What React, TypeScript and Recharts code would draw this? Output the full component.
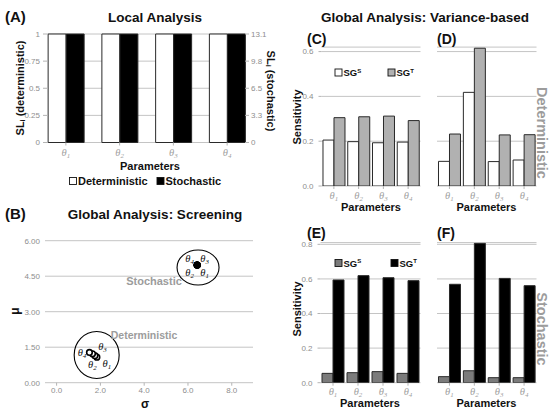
import React from 'react';
import {
  BarChart,
  Bar,
  XAxis,
  YAxis,
  CartesianGrid,
  ScatterChart,
  Scatter,
  ReferenceDot,
} from 'recharts';

const W = 550;
const H = 413;

// ---------------- data ----------------
const parameters = ['1', '2', '3', '4'];

// (A) local analysis
const localSeries = ['Deterministic', 'Stochastic'];
const localDeterministic = [1, 1, 1, 1];
const localStochastic = [13.1, 13.1, 13.1, 13.1];
const localLeftTicks = [0, 0.25, 0.5, 0.75, 1];
const localLeftTickLabels = ['0', '0.25', '0.5', '0.75', '1'];
const localRightTicks = [0, 3.275, 6.55, 9.825, 13.1];
const localRightTickLabels = ['0', '3.3', '6.5', '9.8', '13.1'];

// (B) screening
const screenDetSigma = [1.84, 1.75, 1.64, 1.5];
const screenDetMu = [1.08, 1.14, 1.22, 1.28];
const screenStoSigma = [6.42, 6.42, 6.42, 6.42];
const screenStoMu = [4.97, 4.97, 4.97, 4.97];
const screenClusterSigma = [6.46, 1.83]; // stochastic, deterministic
const screenClusterMu = [4.87, 1.17];
const screenGroups = ['Stochastic', 'Deterministic'];
const screenXTicks = [0, 2, 4, 6, 8];
const screenXTickLabels = ['0.0', '2.0', '4.0', '6.0', '8.0'];
const screenYTicks = [0, 1.5, 3, 4.5, 6];
const screenYTickLabels = ['0.00', '1.50', '3.00', '4.50', '6.00'];

// (C)-(F) variance based
const varSeries = ['S', 'T'];
const detFirstC = [0.205, 0.198, 0.193, 0.196];
const detTotalC = [0.305, 0.309, 0.312, 0.292];
const detFirstD = [0.11, 0.418, 0.109, 0.116];
const detTotalD = [0.232, 0.615, 0.228, 0.229];
const stoFirstE = [0.054, 0.058, 0.064, 0.054];
const stoTotalE = [0.594, 0.619, 0.607, 0.59];
const stoFirstF = [0.035, 0.069, 0.029, 0.029];
const stoTotalF = [0.569, 0.806, 0.603, 0.561];
const detTicks = [0, 0.2, 0.4, 0.6];
const detTickLabels = ['0.0', '0.2', '0.4', '0.6'];
const stoTicks = [0, 0.2, 0.4, 0.6, 0.8];
const stoTickLabels = ['0.0', '0.2', '0.4', '0.6', '0.8'];

// ---------------- styles ----------------
const GRID = '#c4c4c4';
const TICK_TEXT = '#8e8e8e';
const TICK_LINE = '#b4b4b4';
const NOTE = '#9c9c9c';
const BAR_STROKE = '#2a2a2a';
const LIGHT_GRAY = '#b1b1b1';
const DARK_GRAY = '#7b7b7b';
const SANS = "'Liberation Sans', Arial, Helvetica, sans-serif";
const SERIF = "'Liberation Serif', 'DejaVu Serif', serif";

const fmt = (ticks: number[], labels: string[]) => (v: number) => {
  const i = ticks.findIndex((t) => Math.abs(t - v) < 1e-9);
  return i >= 0 ? labels[i] : String(v);
};

function Theta({ x, y, sub, fill, size = 11 }: any) {
  return (
    <text x={x} y={y} textAnchor="middle" fill={fill} fontFamily={SERIF} fontStyle="italic" fontSize={size}>
      θ
      <tspan fontSize={size * 0.66} dy={2.2}>
        {sub}
      </tspan>
    </text>
  );
}

function ThetaTick(props: any) {
  const { x, y, payload, baseline = 8 } = props;
  return <Theta x={x} y={y + baseline} sub={payload.value} fill="#a2a2a2" size={10.5} />;
}

const abs: React.CSSProperties = { position: 'absolute', left: 0, top: 0 };

// ---------------- panel A ----------------
function LocalPanel() {
  const data = parameters.map((p, i) => ({ p, det: localDeterministic[i], sto: localStochastic[i] }));
  const plot = { left: 48, right: 245, top: 34, bottom: 142.5 };
  const yw = 40;
  return (
    <div style={abs}>
      <BarChart
        width={W}
        height={H}
        data={data}
        margin={{ top: plot.top, left: plot.left - yw, right: W - plot.right - yw, bottom: H - plot.bottom - 30 }}
        barCategoryGap="17%"
        barGap={0}
      >
        <CartesianGrid vertical={false} stroke={GRID} yAxisId="left" />
        <XAxis
          dataKey="p"
          height={30}
          interval={0}
          axisLine={false}
          tickSize={3}
          tickMargin={2}
          tickLine={{ stroke: TICK_LINE }}
          padding={{ left: -9, right: -9 }}
          tick={<ThetaTick baseline={8} />}
        />
        <YAxis
          yAxisId="left"
          width={yw}
          domain={[0, 1]}
          ticks={localLeftTicks}
          tickFormatter={fmt(localLeftTicks, localLeftTickLabels)}
          axisLine={false}
          tickSize={5}
          tickMargin={3}
          tickLine={{ stroke: TICK_LINE }}
          tick={{ fontSize: 8, fill: TICK_TEXT }}
        />
        <YAxis
          yAxisId="right"
          orientation="right"
          width={yw}
          domain={[0, 13.1]}
          ticks={localRightTicks}
          tickFormatter={fmt(localRightTicks, localRightTickLabels)}
          axisLine={false}
          tickSize={4}
          tickMargin={2}
          tickLine={{ stroke: TICK_LINE }}
          tick={{ fontSize: 8, fill: TICK_TEXT }}
        />
        <Bar yAxisId="left" dataKey="det" fill="#ffffff" stroke={BAR_STROKE} isAnimationActive={false} />
        <Bar yAxisId="right" dataKey="sto" fill="#000000" stroke={BAR_STROKE} isAnimationActive={false} />
      </BarChart>
    </div>
  );
}

// ---------------- panel B ----------------
const detLabelOffsets: Record<string, [number, number]> = {
  '1': [10, 10],
  '2': [-2.5, 12.5],
  '3': [10, -4],
  '4': [-7.5, 3.5],
};
const stoLabelOffsets: Record<string, [number, number]> = {
  '1': [7.5, 10.5],
  '2': [-7.5, 10.5],
  '3': [7.5, -3.5],
  '4': [-7.5, -3.5],
};

function DetPoint(props: any) {
  const { cx, cy, payload } = props;
  const o = detLabelOffsets[payload.p];
  return (
    <g>
      <circle cx={cx} cy={cy} r={2.8} fill="#fff" stroke="#000" strokeWidth={1.6} />
      <Theta x={cx + o[0]} y={cy + o[1]} sub={payload.p} fill="#111" size={10.5} />
    </g>
  );
}

function StoPoint(props: any) {
  const { cx, cy, payload } = props;
  const o = stoLabelOffsets[payload.p];
  return (
    <g>
      <circle cx={cx} cy={cy} r={3.3} fill="#000" stroke="#000" />
      <Theta x={cx + o[0]} y={cy + o[1]} sub={payload.p} fill="#111" size={10.5} />
    </g>
  );
}

const clusterRadii: [number, number][] = [
  [21, 17.5],
  [22.5, 23.5],
];

function ScreenPanel() {
  const det = parameters.map((p, i) => ({ p, sigma: screenDetSigma[i], mu: screenDetMu[i] }));
  const sto = parameters.map((p, i) => ({ p, sigma: screenStoSigma[i], mu: screenStoMu[i] }));
  const plot = { left: 45, right: 253, top: 240.7, bottom: 382.7 };
  const yw = 40;
  return (
    <div style={abs}>
      <ScatterChart
        width={W}
        height={H}
        margin={{ top: plot.top, left: plot.left - yw, right: W - plot.right, bottom: H - plot.bottom - 20 }}
      >
        <CartesianGrid vertical={false} stroke={GRID} />
        <XAxis
          type="number"
          dataKey="sigma"
          domain={[-0.53, 8.97]}
          allowDataOverflow
          ticks={screenXTicks}
          tickFormatter={fmt(screenXTicks, screenXTickLabels)}
          height={20}
          axisLine={false}
          tickSize={3}
          tickMargin={2}
          tickLine={{ stroke: TICK_LINE }}
          tick={{ fontSize: 8, fill: TICK_TEXT }}
        />
        <YAxis
          type="number"
          dataKey="mu"
          domain={[0, 6]}
          allowDataOverflow
          ticks={screenYTicks}
          tickFormatter={fmt(screenYTicks, screenYTickLabels)}
          width={yw}
          axisLine={false}
          tickLine={false}
          tickSize={0}
          tickMargin={5}
          tick={{ fontSize: 8, fill: TICK_TEXT }}
        />
        {screenGroups.map((g, i) => (
          <ReferenceDot
            key={g}
            x={screenClusterSigma[i]}
            y={screenClusterMu[i]}
            r={clusterRadii[i][0]}
            shape={(p: any) => (
              <ellipse cx={p.cx} cy={p.cy} rx={clusterRadii[i][0]} ry={clusterRadii[i][1]} fill="none" stroke="#000" strokeWidth={1.1} />
            )}
          />
        ))}
        <Scatter data={det} shape={DetPoint} isAnimationActive={false} />
        <Scatter data={sto} shape={StoPoint} isAnimationActive={false} />
      </ScatterChart>
    </div>
  );
}

// ---------------- panels C-F ----------------
function VarPanel({ first, total, plot, domain, ticks, tickLabels, showY, firstFill, totalFill }: any) {
  const data = parameters.map((p, i) => ({ p, first: first[i], total: total[i] }));
  const yw = showY ? 40 : 0;
  return (
    <div style={abs}>
      <BarChart
        width={W}
        height={H}
        data={data}
        margin={{ top: plot.top, left: plot.left - yw, right: W - plot.right, bottom: H - plot.bottom - 30 }}
        barCategoryGap="6%"
        barGap={0}
      >
        <CartesianGrid vertical={false} stroke={GRID} />
        <XAxis
          dataKey="p"
          height={30}
          interval={0}
          axisLine={false}
          tickSize={3}
          tickMargin={2}
          tickLine={{ stroke: TICK_LINE }}
          tick={<ThetaTick baseline={7.5} />}
        />
        <YAxis
          hide={!showY}
          width={yw}
          domain={domain}
          allowDataOverflow
          ticks={ticks}
          tickFormatter={fmt(ticks, tickLabels)}
          axisLine={false}
          tickSize={3}
          tickMargin={5}
          tickLine={{ stroke: TICK_LINE }}
          tick={{ fontSize: 8, fill: TICK_TEXT }}
        />
        <Bar dataKey="first" fill={firstFill} stroke={BAR_STROKE} isAnimationActive={false} />
        <Bar dataKey="total" fill={totalFill} stroke={BAR_STROKE} isAnimationActive={false} />
      </BarChart>
    </div>
  );
}

// ---------------- overlay text ----------------
function Overlay() {
  const bold = { fontFamily: SANS, fontWeight: 700 } as const;
  const legendA = [
    { name: localSeries[0], fill: '#fff', sx: 69.5, tx: 78 },
    { name: localSeries[1], fill: '#000', sx: 157, tx: 165.5 },
  ];
  const legendC = [
    { sup: varSeries[0], fill: '#fff', sx: 335, tx: 343.5 },
    { sup: varSeries[1], fill: LIGHT_GRAY, sx: 388, tx: 396.5 },
  ];
  const legendE = [
    { sup: varSeries[0], fill: DARK_GRAY, sx: 335, tx: 343.5 },
    { sup: varSeries[1], fill: '#000', sx: 391, tx: 399.5 },
  ];
  const paramTitle = (x: number, y: number) => (
    <text x={x} y={y} textAnchor="middle" fontSize={11} {...bold} fill="#111">
      Parameters
    </text>
  );
  const sens = (x: number, y: number) => (
    <text x={x} y={y} textAnchor="middle" dominantBaseline="central" fontSize={11} {...bold} fill="#111" transform={`rotate(-90 ${x} ${y})`}>
      Sensitivity
    </text>
  );
  const varLegend = (items: any[], y: number) =>
    items.map((it) => (
      <g key={it.sup + y}>
        <rect x={it.sx} y={y - 7} width={7} height={7} fill={it.fill} stroke="#111" strokeWidth={0.9} />
        <text x={it.tx} y={y} fontSize={9.5} {...bold} fill="#111">
          SG
          <tspan fontSize={6} dy={-3.5}>
            {it.sup}
          </tspan>
        </text>
      </g>
    ));
  return (
    <svg width={W} height={H} style={{ ...abs, pointerEvents: 'none' }}>
      {/* Panel A */}
      <text x={5} y={21.5} fontSize={15} {...bold} fill="#111">(A)</text>
      <text x={155} y={21.5} textAnchor="middle" fontSize={13.5} {...bold} fill="#111">Local Analysis</text>
      <text x={20} y={88} textAnchor="middle" dominantBaseline="central" fontSize={11} {...bold} fill="#111" transform="rotate(-90 20 88)">
        SL<tspan fontSize={7} dy={2}>i</tspan><tspan dy={-2}> (deterministic)</tspan>
      </text>
      <text x={271} y={91} textAnchor="middle" dominantBaseline="central" fontSize={11} {...bold} fill="#111" transform="rotate(90 271 91)">
        SL<tspan fontSize={7} dy={2}>i</tspan><tspan dy={-2}> (stochastic)</tspan>
      </text>
      {paramTitle(150, 170)}
      {legendA.map((it) => (
        <g key={it.name}>
          <rect x={it.sx} y={177.5} width={7} height={7} fill={it.fill} stroke="#111" strokeWidth={0.9} />
          <text x={it.tx} y={185} fontSize={11} {...bold} fill="#111">{it.name}</text>
        </g>
      ))}

      {/* Panel B */}
      <text x={5} y={219} fontSize={15} {...bold} fill="#111">(B)</text>
      <text x={155} y={219} textAnchor="middle" fontSize={13.5} {...bold} fill="#111">Global Analysis: Screening</text>
      <text x={15} y={311} textAnchor="middle" dominantBaseline="central" fontSize={12} {...bold} fill="#111" transform="rotate(-90 15 311)">μ</text>
      <text x={145} y={407.5} textAnchor="middle" fontSize={12} {...bold} fill="#111">σ</text>
      <text x={154} y={285} textAnchor="middle" fontSize={11} {...bold} fill={NOTE}>{screenGroups[0]}</text>
      <text x={144} y={338.5} textAnchor="middle" fontSize={10.5} {...bold} fill={NOTE}>{screenGroups[1]}</text>

      {/* Panels C-F */}
      <text x={425} y={21.5} textAnchor="middle" fontSize={13.5} {...bold} fill="#111">Global Analysis: Variance-based</text>
      <text x={307} y={43.5} fontSize={14} {...bold} fill="#111">(C)</text>
      <text x={437} y={43.5} fontSize={14} {...bold} fill="#111">(D)</text>
      <text x={307} y={237.5} fontSize={14} {...bold} fill="#111">(E)</text>
      <text x={437} y={237.5} fontSize={14} {...bold} fill="#111">(F)</text>
      {sens(297, 117)}
      {sens(297, 309)}
      {paramTitle(371, 211)}
      {paramTitle(486.5, 211)}
      {paramTitle(370, 407)}
      {paramTitle(486.5, 407)}
      {varLegend(legendC, 76)}
      {varLegend(legendE, 266.5)}
      <text x={542} y={133} textAnchor="middle" dominantBaseline="central" fontSize={14.5} {...bold} fill={NOTE} transform="rotate(90 542 133)">Deterministic</text>
      <text x={542} y={329} textAnchor="middle" dominantBaseline="central" fontSize={14.5} {...bold} fill={NOTE} transform="rotate(90 542 329)">Stochastic</text>
    </svg>
  );
}

export default function App() {
  return (
    <div style={{ position: 'absolute', left: 0, top: 0, width: W, height: H, background: '#fff', fontFamily: SANS, overflow: 'hidden' }}>
      <LocalPanel />
      <ScreenPanel />
      <VarPanel
        first={detFirstC}
        total={detTotalC}
        plot={{ left: 321.5, right: 420.5, top: 47.1, bottom: 186 }}
        domain={[0, 0.62]}
        ticks={detTicks}
        tickLabels={detTickLabels}
        showY
        firstFill="#ffffff"
        totalFill={LIGHT_GRAY}
      />
      <VarPanel
        first={detFirstD}
        total={detTotalD}
        plot={{ left: 437, right: 536.5, top: 47.1, bottom: 186 }}
        domain={[0, 0.62]}
        ticks={detTicks}
        tickLabels={detTickLabels}
        showY={false}
        firstFill="#ffffff"
        totalFill={LIGHT_GRAY}
      />
      <VarPanel
        first={stoFirstE}
        total={stoTotalE}
        plot={{ left: 320.5, right: 420.5, top: 242.6, bottom: 382.7 }}
        domain={[0, 0.81]}
        ticks={stoTicks}
        tickLabels={stoTickLabels}
        showY
        firstFill={DARK_GRAY}
        totalFill="#000000"
      />
      <VarPanel
        first={stoFirstF}
        total={stoTotalF}
        plot={{ left: 437, right: 536.5, top: 242.6, bottom: 382.7 }}
        domain={[0, 0.81]}
        ticks={stoTicks}
        tickLabels={stoTickLabels}
        showY={false}
        firstFill={DARK_GRAY}
        totalFill="#000000"
      />
      <Overlay />
    </div>
  );
}
